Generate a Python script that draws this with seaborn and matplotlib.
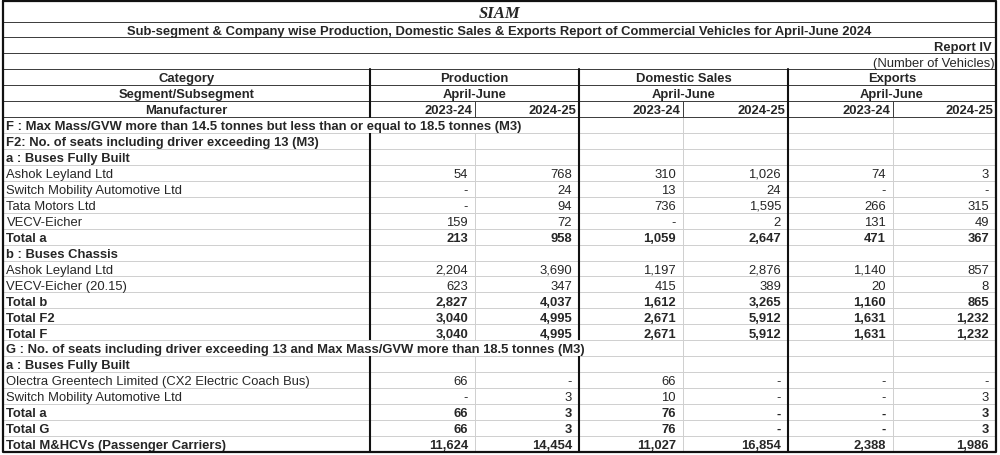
import matplotlib
matplotlib.use('Agg')
import matplotlib.pyplot as plt
import seaborn as sns

sns.set_theme(style="white")
plt.rcParams['font.family'] = ['Liberation Sans', 'DejaVu Sans']

title = "SIAM"
subtitle = ("Sub-segment & Company wise Production, Domestic Sales & Exports "
            "Report of Commercial Vehicles for April-June 2024")
report = "Report IV"
unit = "(Number of Vehicles)"
head_rows = ["Category", "Segment/Subsegment", "Manufacturer"]
groups = ["Production", "Domestic Sales", "Exports"]
period = "April-June"
years = ["2023-24", "2024-25"]

labels = [
    "F : Max Mass/GVW more than 14.5 tonnes but less than or equal to 18.5 tonnes (M3)",
    "F2: No. of seats including driver exceeding 13 (M3)",
    "a : Buses Fully Built",
    "Ashok Leyland Ltd",
    "Switch Mobility Automotive Ltd",
    "Tata Motors Ltd",
    "VECV-Eicher",
    "Total a",
    "b : Buses Chassis",
    "Ashok Leyland Ltd",
    "VECV-Eicher (20.15)",
    "Total b",
    "Total F2",
    "Total F",
    "G : No. of seats including driver exceeding 13 and Max Mass/GVW more than 18.5 tonnes (M3)",
    "a : Buses Fully Built",
    "Olectra Greentech Limited (CX2 Electric Coach Bus)",
    "Switch Mobility Automotive Ltd",
    "Total a",
    "Total G",
    "Total M&HCVs (Passenger Carriers)",
]
bold_rows = [1, 1, 1, 0, 0, 0, 0, 1, 1, 0, 0, 1, 1, 1, 1, 1, 0, 0, 1, 1, 1]

# None = empty cell, 0 = "-"
prod_2324 = [None, None, None, 54, 0, 0, 159, 213, None, 2204, 623, 2827, 3040, 3040, None, None, 66, 0, 66, 66, 11624]
prod_2425 = [None, None, None, 768, 24, 94, 72, 958, None, 3690, 347, 4037, 4995, 4995, None, None, 0, 3, 3, 3, 14454]
dom_2324 = [None, None, None, 310, 13, 736, 0, 1059, None, 1197, 415, 1612, 2671, 2671, None, None, 66, 10, 76, 76, 11027]
dom_2425 = [None, None, None, 1026, 24, 1595, 2, 2647, None, 2876, 389, 3265, 5912, 5912, None, None, 0, 0, 0, 0, 16854]
exp_2324 = [None, None, None, 74, 0, 266, 131, 471, None, 1140, 20, 1160, 1631, 1631, None, None, 0, 0, 0, 0, 2388]
exp_2425 = [None, None, None, 3, 0, 315, 49, 367, None, 857, 8, 865, 1232, 1232, None, None, 0, 3, 3, 3, 1986]
columns = [prod_2324, prod_2425, dom_2324, dom_2425, exp_2324, exp_2425]

# layout in pixels
x_edges = [3, 370, 475, 579, 683, 788, 893, 996]
thick = [0, 1, 3, 5, 7]
top, title_bot = 2, 22.5
hh = 15.9
head_y = [title_bot + hh * k for k in range(7)]
data_top = head_y[-1]
rh = (453 - data_top) / len(labels)
row_y = [data_top + rh * i for i in range(len(labels) + 1)]
fs = 9.35
base = 12.2
dark, light, black = '#404040', '#d0d0d0', '#111111'

fig = plt.figure(figsize=(10, 4.56), dpi=100)
ax = fig.add_axes([0, 0, 1, 1])
ax.set_xlim(0, 1000)
ax.set_ylim(456, 0)
ax.axis('off')

xc = (x_edges[0] + x_edges[-1]) / 2
ax.text(xc, 17.5, title, ha='center', va='baseline', family=['Liberation Serif'],
        fontsize=12, fontweight='bold', style='italic')
ax.text(xc, head_y[0] + base, subtitle, ha='center', va='baseline', fontsize=fs, fontweight='bold')
ax.text(x_edges[-1] - 4, head_y[1] + base, report, ha='right', va='baseline', fontsize=fs, fontweight='bold')
ax.text(x_edges[-1] - 1, head_y[2] + base, unit, ha='right', va='baseline', fontsize=fs)

for k, h in enumerate(head_rows):
    ax.text((x_edges[0] + x_edges[1]) / 2, head_y[3 + k] + base, h, ha='center', va='baseline',
            fontsize=fs, fontweight='bold')
for g, name in enumerate(groups):
    gx = (x_edges[1 + 2 * g] + x_edges[3 + 2 * g]) / 2
    ax.text(gx, head_y[3] + base, name, ha='center', va='baseline', fontsize=fs, fontweight='bold')
    ax.text(gx, head_y[4] + base, period, ha='center', va='baseline', fontsize=fs, fontweight='bold')
    for j, yr in enumerate(years):
        ax.text(x_edges[2 + 2 * g + j] - 3, head_y[5] + base, yr, ha='right', va='baseline',
                fontsize=fs, fontweight='bold')

# body text
label_texts = []
for i, lab in enumerate(labels):
    w = 'bold' if bold_rows[i] else 'normal'
    label_texts.append(ax.text(6.5, row_y[i] + base, lab, ha='left', va='baseline', fontsize=fs, fontweight=w))
    for c, col in enumerate(columns):
        v = col[i]
        if v is None:
            continue
        s = f"{v:,}" if v else "-"
        ax.text(x_edges[c + 2] - 7, row_y[i] + base, s, ha='right', va='baseline', fontsize=fs, fontweight=w)

# work out which cell borders are hidden by overflowing labels
fig.canvas.draw()
inv = ax.transData.inverted()
label_end = []
for t in label_texts:
    bb = t.get_window_extent()
    label_end.append(inv.transform((bb.x1, bb.y0))[0])

# horizontal lines
for y in row_y[1:-1]:
    ax.plot([x_edges[0], x_edges[-1]], [y, y], color=light, lw=0.72, zorder=1)
for y in head_y:
    ax.plot([x_edges[0], x_edges[-1]], [y, y], color=dark, lw=0.72, zorder=2)

# vertical lines: header year row
for k in (2, 4, 6):
    ax.plot([x_edges[k], x_edges[k]], [head_y[5], head_y[6]], color=dark, lw=0.72, zorder=2)
for k in thick[1:-1]:
    ax.plot([x_edges[k], x_edges[k]], [head_y[3], head_y[6]], color=black, lw=1.5, zorder=3)

# vertical lines: data rows
for i in range(len(labels)):
    for k in range(1, len(x_edges) - 1):
        if x_edges[k] < label_end[i] + 2:
            continue
        if k in thick:
            ax.plot([x_edges[k], x_edges[k]], [row_y[i], row_y[i + 1]], color=black, lw=1.5,
                    zorder=3, solid_capstyle='butt')
        else:
            ax.plot([x_edges[k], x_edges[k]], [row_y[i], row_y[i + 1]], color=light, lw=0.72, zorder=1)

# outer border
ax.plot([x_edges[0], x_edges[-1], x_edges[-1], x_edges[0], x_edges[0]],
        [top, top, row_y[-1], row_y[-1], top], color=black, lw=1.6, zorder=4)

fig.savefig('out.png', dpi=100)
